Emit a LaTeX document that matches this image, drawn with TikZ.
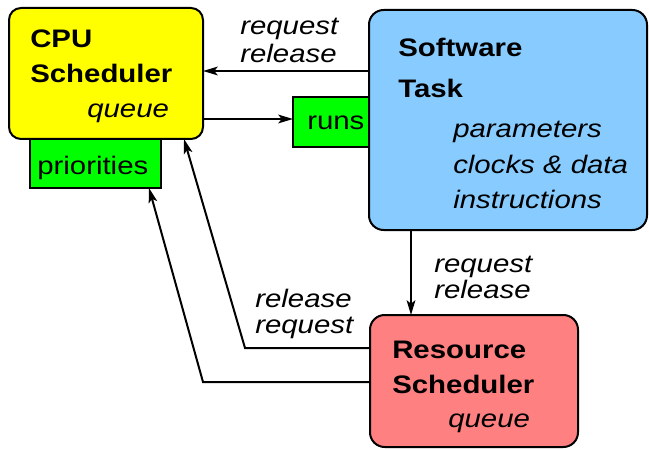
\documentclass[tikz,border=0pt]{standalone}
\usepackage{fontspec}
\usepackage{graphicx}
\setmainfont{Liberation Sans}
\usetikzlibrary{arrows.meta}
\definecolor{cpuyellow}{HTML}{FFFF00}
\definecolor{boxgreen}{HTML}{00FF00}
\definecolor{swblue}{HTML}{88CCFF}
\definecolor{resred}{HTML}{FF8080}
\newcommand{\wtxt}[1]{\scalebox{1.16}[1]{#1}}
\tikzset{
  box/.style={draw=black, line width=1.5pt, inner sep=0pt, outer sep=0pt},
  txt/.style={inner sep=0pt, anchor=base west, font=\fontsize{19}{22}\selectfont},
  btxt/.style={txt, font=\fontsize{19}{22}\selectfont\bfseries},
  itxt/.style={txt, font=\fontsize{19}{22}\selectfont\itshape},
  arr/.style={draw=black, line width=1.5pt, -{Stealth[length=11pt,width=6.5pt,inset=2.5pt]}},
}
\begin{document}
\begin{tikzpicture}[x=0.75pt,y=-0.75pt]
\useasboundingbox (0,0) rectangle (649,449);
% boxes
\node[box, fill=boxgreen, minimum width=98.25pt, minimum height=36.75pt] (pri) at (95.5,163.5) {};
\node[box, fill=cpuyellow, rounded corners=9pt, minimum width=145.5pt, minimum height=98.25pt] (cpu) at (106,73.5) {};
\node[box, fill=boxgreen, minimum width=57.75pt, minimum height=37.5pt] (runs) at (331.5,122) {};
\node[box, fill=swblue, rounded corners=11pt, minimum width=208.5pt, minimum height=165pt] (sw) at (508,120) {};
\node[box, fill=resred, rounded corners=11pt, minimum width=156pt, minimum height=99pt] (res) at (474,381) {};
% box texts
\node[btxt] (t1) at (30,48) {\wtxt{CPU}};
\node[btxt] (t2) at (30,83) {\wtxt{Scheduler}};
\node[itxt] (t3) at (87,118) {\wtxt{queue}};
\node[txt] (t4) at (37,175) {\wtxt{priorities}};
\node[txt] (t5) at (307,130) {\wtxt{runs}};
\node[btxt] (t6) at (398,57) {\wtxt{Software}};
\node[btxt] (t7) at (398,98) {\wtxt{Task}};
\node[itxt] (t8) at (453,138) {\wtxt{parameters}};
\node[itxt] (t9) at (453,174) {\wtxt{clocks \& data}};
\node[itxt] (t10) at (453,208) {\wtxt{instructions}};
\node[btxt] (t11) at (392,358) {\wtxt{Resource}};
\node[btxt] (t12) at (392,393) {\wtxt{Scheduler}};
\node[itxt] (t13) at (448,427) {\wtxt{queue}};
% connector labels
\node[itxt] (l1) at (240,35) {\wtxt{request}};
\node[itxt] (l2) at (240,63) {\wtxt{release}};
\node[itxt] (l3) at (255,307) {\wtxt{release}};
\node[itxt] (l4) at (255,333) {\wtxt{request}};
\node[itxt] (l5) at (434,272) {\wtxt{request}};
\node[itxt] (l6) at (434,298) {\wtxt{release}};
% connectors
\coordinate (k1) at (245,348);
\coordinate (k2) at (203,382);
\draw[arr] (sw.west |- 0,71) -- (cpu.east |- 0,71);
\draw[arr] (cpu.east |- 0,119) -- (runs.west |- 0,119);
\draw[arr] (sw.south -| 411,0) -- (res.north -| 411,0);
\draw[arr] (res.west |- k1) -- (k1) -- (cpu.south -| 184,0);
\draw[arr] (res.west |- k2) -- (k2) -- (pri.south -| 149,0);
\end{tikzpicture}
\end{document}
